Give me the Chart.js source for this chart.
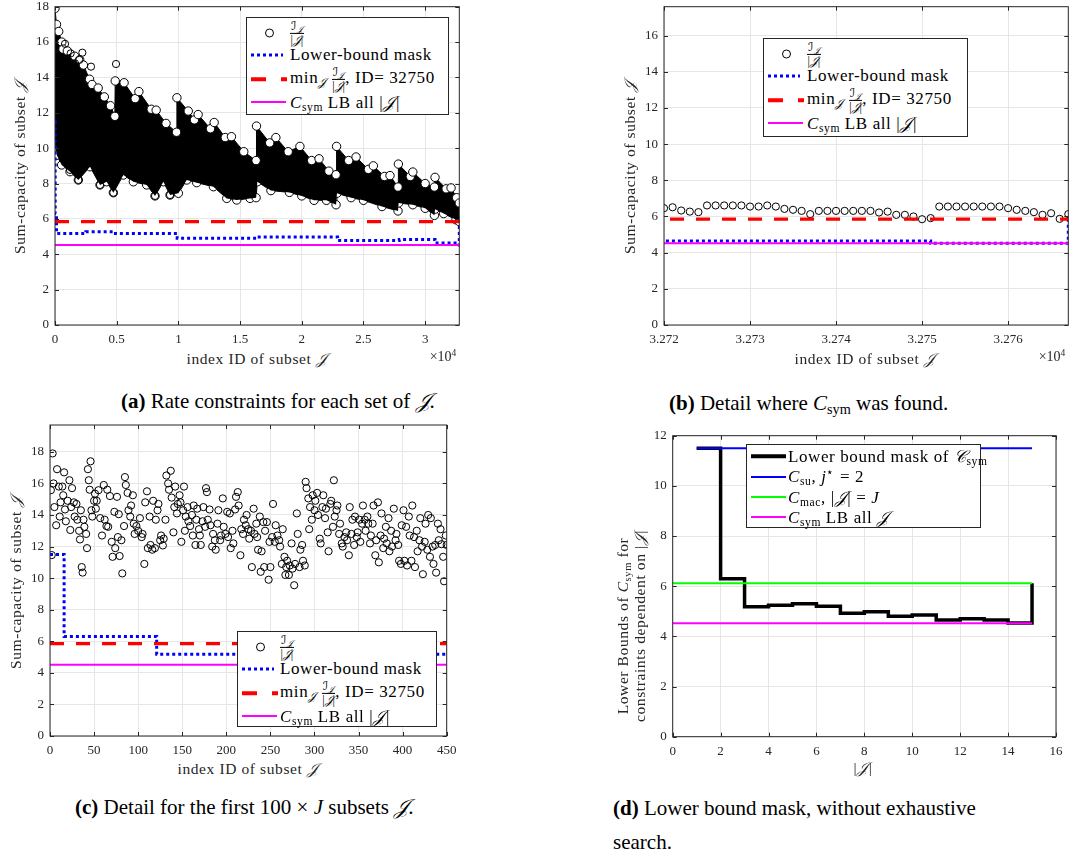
<!DOCTYPE html>
<html>
<head>
<meta charset="utf-8">
<script src="https://cdn.jsdelivr.net/npm/chart.js@4/dist/chart.umd.min.js"></script>
<style>
  body { margin: 0; width: 1085px; height: 861px; position: relative; overflow: hidden; background: #fff;
         font-family: "Liberation Serif", serif; color: #262626; }
  canvas { position: absolute; }
  .t { position: absolute; white-space: nowrap; transform: translate(-50%, -50%); }
  .axl { font-size: 15.5px; letter-spacing: 0.6px; }
  .rot { transform: translate(-50%, -50%) rotate(-90deg); }
  .cal { font-family: "DejaVu Serif", "DejaVu Sans", serif; font-style: italic; }
  sub { font-size: 0.68em; vertical-align: -0.3em; line-height: 0; }
  sup { font-size: 0.68em; vertical-align: 0.5em; line-height: 0; }
  .leg { position: absolute; background: #fff; border: 1px solid #262626; box-sizing: border-box; }
  .row { position: absolute; left: 0; right: 0; height: 0; }
  .row .txt { position: absolute; transform: translateY(-50%); font-size: 17px; letter-spacing: 0.6px; white-space: nowrap; color: #000; }
  .mk { position: absolute; transform: translateY(-50%); }
  .frac { display: inline-flex; flex-direction: column; align-items: center; font-size: 12px; line-height: 1.05; vertical-align: middle; letter-spacing: 0; }
  .frac > span:first-child { border-bottom: 1px solid #000; padding: 0 1px; }
  .cap { position: absolute; white-space: nowrap; font-size: 21px; color: #000; font-family: "Liberation Serif", serif; }
  .x4 { font-size: 14px; }
</style>
</head>
<body>
<canvas id="chartA" width="480" height="350" style="left:0;top:0"></canvas>
<canvas id="chartB" width="485" height="350" style="left:600px;top:0"></canvas>
<canvas id="chartC" width="470" height="340" style="left:0;top:420px"></canvas>
<canvas id="chartD" width="485" height="340" style="left:600px;top:420px"></canvas>

<!-- axis titles -->
<div class="t axl rot" style="left:20px;top:167px">Sum-capacity of subset <span class="cal">&#x1D4A5;</span></div>
<div class="t axl" style="left:257px;top:359px">index ID of subset <span class="cal">&#x1D4A5;</span></div>
<div class="t x4" style="left:443px;top:357px">&times;10<sup>4</sup></div>

<div class="t axl rot" style="left:630px;top:167px">Sum-capacity of subset <span class="cal">&#x1D4A5;</span></div>
<div class="t axl" style="left:865px;top:359px">index ID of subset <span class="cal">&#x1D4A5;</span></div>
<div class="t x4" style="left:1052px;top:357px">&times;10<sup>4</sup></div>

<div class="t axl rot" style="left:16px;top:582px">Sum-capacity of subset <span class="cal">&#x1D4A5;</span></div>
<div class="t axl" style="left:248px;top:769px">index ID of subset <span class="cal">&#x1D4A5;</span></div>

<div class="t axl rot" style="left:623px;top:626px">Lower Bounds of <i>C</i><sub>sym</sub> for</div>
<div class="t axl rot" style="left:640px;top:626px">constraints dependent on |<span class="cal">&#x1D4A5;</span>|</div>
<div class="t axl" style="left:863px;top:768px">|<span class="cal">&#x1D4A5;</span>|</div>

<!-- legends -->
<div id="legA" class="leg" style="left:246px;top:17px;width:203px;height:98px"></div>
<div id="legB" class="leg" style="left:763px;top:38px;width:205px;height:99px"></div>
<div id="legC" class="leg" style="left:237px;top:631px;width:200px;height:96px"></div>
<div class="leg" style="left:746px;top:444px;width:235px;height:84px">
  <div class="row" style="top:11px"><div class="mk" style="left:4px;width:35px;height:3.5px;background:#000"></div>
    <div class="txt" style="left:41px">Lower bound mask of <span class="cal">&#x1D49E;</span><sub>sym</sub></div></div>
  <div class="row" style="top:32px"><div class="mk" style="left:4px;width:35px;height:2px;background:#0000ff"></div>
    <div class="txt" style="left:41px"><i>C</i><sub>su</sub>, <i>j</i><sup>&#x22C6;</sup> = 2</div></div>
  <div class="row" style="top:52px"><div class="mk" style="left:4px;width:35px;height:2px;background:#00ff00"></div>
    <div class="txt" style="left:41px"><i>C</i><sub>mac</sub>, |<span class="cal">&#x1D4A5;</span>| = <i>J</i></div></div>
  <div class="row" style="top:72px"><div class="mk" style="left:4px;width:35px;height:2px;background:#ff00ff"></div>
    <div class="txt" style="left:41px"><i>C</i><sub>sym</sub> LB all <span class="cal">&#x1D4A5;</span></div></div>
</div>

<!-- captions -->
<div class="cap" style="left:121px;top:389px"><b>(a)</b> Rate constraints for each set of <span class="cal">&#x1D4A5;</span>.</div>
<div class="cap" style="left:669px;top:391px"><b>(b)</b> Detail where <i>C</i><sub>sym</sub> was found.</div>
<div class="cap" style="left:75px;top:795px"><b>(c)</b> Detail for the first 100 &times; <i>J</i> subsets <span class="cal">&#x1D4A5;</span>.</div>
<div class="cap" style="left:613px;top:796px"><b>(d)</b> Lower bound mask, without exhaustive</div>
<div class="cap" style="left:613px;top:830px">search.</div>

<script>
// shared reference levels
const idxMax = 32767;
const minCap = 5.85;     // min over J of I_J/|J|, ID = 32750
const csymLB = 4.52;     // C_sym lower bound over all |J|

// tick positions
const ticksAx = [0, 5000, 10000, 15000, 20000, 25000, 30000];
const ticksAy = [0, 2, 4, 6, 8, 10, 12, 14, 16, 18];
const ticksBx = [32720, 32730, 32740, 32750, 32760];
const ticksBy = [0, 2, 4, 6, 8, 10, 12, 14, 16];
const ticksCx = [0, 50, 100, 150, 200, 250, 300, 350, 400, 450];
const ticksCy = [0, 2, 4, 6, 8, 10, 12, 14, 16, 18];
const ticksDx = [0, 2, 4, 6, 8, 10, 12, 14, 16];
const ticksDy = [0, 2, 4, 6, 8, 10, 12];

// lower-bound mask over the subset index (value holds until the next index)
const maskIdx = [0, 16, 121, 2500, 4900, 9900, 16400, 22900, 27900, 30800, 32751, 32767, 32767];
const maskVal = [11.5, 6.3, 5.18, 5.27, 5.17, 4.9, 4.98, 4.78, 4.84, 4.64, 4.52, 4.52, 6.0];

// (a) envelope of the dense I_J/|J| cloud over all subsets
const cloudHiIdx = [0, 120, 300, 550, 650, 1000, 1600, 2000, 2300, 2800, 3000, 3500, 4000, 4500, 4850,
  4880, 5600, 6500, 6800, 7800, 8200, 9000, 9850,
  9880, 10800, 11300, 11600, 12600, 12900, 13800, 14300, 15300, 16300,
  16330, 17400, 17900, 18900, 19850, 20800, 21400, 22200, 22780,
  22820, 23800, 24400, 25400, 25800, 26700, 27150, 27800,
  27830, 28800, 29000, 30000, 30750, 30800, 31700, 32100, 32550, 32767];
const cloudHiVal = [17.9, 17.0, 16.6, 16.0, 15.6, 15.5, 15.2, 15.0, 14.7, 13.9, 13.6, 13.4, 12.9, 12.4, 11.8,
  13.8, 13.7, 12.8, 13.2, 12.2, 12.15, 11.4, 10.9,
  12.85, 12.1, 11.6, 11.9, 11.1, 11.45, 10.6, 10.65, 9.8, 9.3,
  11.25, 10.3, 10.6, 9.8, 10.1, 9.3, 9.4, 8.7, 8.5,
  10.1, 9.3, 9.5, 8.8, 9.0, 8.4, 8.45, 7.8,
  9.1, 8.4, 8.65, 8.0, 7.8, 8.35, 7.7, 7.75, 7.2, 6.9];
const cloudLoIdx = [0, 150, 540, 1216, 1892, 2838, 3649, 4189, 4730, 5540, 6351, 7432, 8108, 8784, 9324,
  10000, 10676, 11486, 12838, 13919, 14730, 15811, 16300,
  16400, 17500, 19000, 20000, 21000, 22000, 22780,
  22850, 24000, 25000, 26500, 27800, 27850, 29000, 30000, 30750, 30800, 31500, 32500, 32767];
const cloudLoVal = [10.5, 9.6, 9.05, 8.67, 8.2, 8.95, 7.92, 8.1, 7.48, 8.48, 8.1, 7.92, 7.3, 8.1, 7.35,
  7.45, 8.2, 8.05, 7.82, 7.16, 7.07, 7.16, 7.2,
  8.1, 7.6, 7.5, 7.3, 7.05, 7.05, 6.8,
  7.45, 7.2, 7.05, 6.7, 6.45, 6.9, 6.8, 6.6, 6.2, 6.55, 6.3, 5.95, 5.85];
// isolated circles just outside the cloud
const strayIdx = [811, 1270, 1622, 1973, 2216, 2919, 4946, 1216, 1892, 3649, 4730, 8108, 9324];
const strayVal = [15.9, 15.36, 14.8, 14.99, 15.4, 14.61, 14.76, 8.77, 8.2, 7.92, 7.48, 7.3, 7.35];

// (b) last subsets
const idxB = [32720, 32721, 32722, 32723, 32724, 32725, 32726, 32727, 32728, 32729, 32730, 32731,
  32732, 32733, 32734, 32735, 32736, 32737, 32738, 32739, 32740, 32741, 32742, 32743,
  32744, 32745, 32746, 32747, 32748, 32749, 32750, 32751, 32752, 32753, 32754, 32755,
  32756, 32757, 32758, 32759, 32760, 32761, 32762, 32763, 32764, 32765, 32766, 32767];
const capB = [6.46, 6.51, 6.33, 6.27, 6.24, 6.61, 6.61, 6.61, 6.61, 6.61, 6.55, 6.55,
  6.61, 6.55, 6.42, 6.37, 6.31, 6.13, 6.31, 6.31, 6.31, 6.31, 6.31, 6.31,
  6.31, 6.22, 6.27, 6.09, 6.09, 6.0, 5.85, 5.91, 6.55, 6.55, 6.55, 6.55,
  6.55, 6.55, 6.55, 6.55, 6.46, 6.37, 6.31, 6.24, 6.09, 6.18, 5.87, 6.13];

// (c) first subsets
const idxC = [1, 3, 2, 4, 5, 7, 8, 10, 11, 12, 14, 15, 16, 17, 18, 20, 22, 23, 24, 25, 27, 28, 30, 31, 33, 34, 35,
  36, 37, 38, 39, 41, 42, 43, 44, 45, 46, 47, 48, 50, 51, 52, 53, 55, 57, 59, 61, 62, 64, 65, 66, 68, 70,
  71, 73, 74, 76, 77, 78, 79, 81, 82, 84, 85, 86, 88, 89, 91, 92, 94, 95, 96, 98, 100, 102, 104, 105, 107,
  108, 110, 111, 113, 114, 116, 117, 119, 120, 122, 123, 125, 126, 128, 129, 131, 132, 134, 135, 137, 138,
  140, 141, 142, 144, 145, 147, 148, 149, 151, 152, 153, 154, 156, 157, 159, 161, 162, 163, 165, 166, 167,
  169, 170, 171, 173, 174, 176, 177, 178, 179, 181, 182, 184, 185, 187, 188, 190, 191, 193, 194, 196, 197,
  199, 201, 202, 204, 205, 207, 208, 210, 211, 213, 214, 216, 217, 219, 220, 222, 223, 225, 226, 228, 229,
  231, 232, 234, 235, 236, 238, 239, 240, 242, 243, 244, 246, 248, 249, 250, 252, 253, 255, 256, 258, 260,
  261, 263, 264, 266, 267, 268, 269, 271, 272, 274, 275, 277, 278, 280, 281, 283, 284, 286, 287, 289, 290,
  291, 293, 294, 295, 297, 298, 300, 301, 303, 304, 306, 307, 309, 310, 312, 313, 315, 316, 318, 319, 321,
  322, 323, 325, 326, 328, 329, 331, 332, 334, 336, 337, 339, 340, 342, 343, 345, 346, 348, 349, 351, 352,
  354, 355, 357, 358, 360, 361, 363, 364, 366, 367, 369, 370, 372, 373, 375, 376, 378, 379, 381, 382, 384,
  385, 387, 388, 390, 392, 393, 395, 396, 398, 399, 401, 402, 404, 405, 407, 408, 410, 411, 413, 414, 416,
  417, 419, 420, 422, 423, 425, 426, 428, 429, 431, 432, 434, 435, 437, 438, 440, 441, 443, 444, 446, 447,
  449, 450];
const capC = [15.57, 17.9, 11.46, 16.0, 14.5, 13.35, 16.9, 15.8, 13.9, 14.8, 15.8, 15.25, 16.7, 14.35, 13.6,
  14.9, 16.2, 13.05, 14.5, 15.7, 14.8, 13.9, 14.7, 13.7, 13.0, 12.45, 14.3,
  10.7, 10.35, 13.7, 13.25, 12.8, 11.9, 16.9, 16.2, 15.6, 17.4, 14.3, 13.9, 14.9, 15.35, 14.4, 14.9, 15.57,
  13.8, 12.7, 15.9, 13.7, 13.3, 15.6, 13.25, 15.2, 12.3,
  11.35, 14.2, 11.9, 15.15, 12.6, 14.05, 11.4, 12.4, 10.3, 13.3, 16.4, 15.9, 15.4, 14.3, 13.9, 14.6, 15.25,
  13.45, 12.8, 13.3, 13.0, 13.8, 12.6, 12.8, 10.9,
  14.8, 15.5, 11.9, 13.9, 12.1, 11.8, 14.9, 11.9, 13.7, 14.3, 14.7, 12.4, 12.7, 12.07, 12.5, 13.7, 16.5,
  16.0, 15.6, 16.8, 15.1,
  12.9, 14.5, 15.8, 14.1, 14.7, 15.25, 14.8, 12.3, 14.3, 15.8, 13.0, 13.9, 14.5, 13.6, 13.3, 14.0, 12.7,
  14.6, 12.1, 13.7, 14.4,
  13.1, 12.7, 12.1, 13.6, 14.5, 13.25, 15.7, 15.45, 13.7, 14.35, 13.35, 12.0, 12.8, 12.4, 11.8, 13.45, 14.3,
  12.4, 12.7, 15.05, 13.25,
  12.8, 14.2, 12.6, 14.1, 11.9, 13.0, 12.2, 14.35, 15.15, 15.45, 14.6, 11.45, 13.1, 12.8, 13.7, 13.35, 14.0,
  13.1, 12.5, 13.0, 10.7,
  14.4, 12.8, 13.45, 12.6, 11.8, 13.9, 10.4, 11.7, 13.55, 10.7, 13.0, 13.55, 9.9, 12.3, 10.7, 12.6, 14.7,
  12.3, 13.35, 12.7, 12.4,
  12.0, 10.9, 13.1, 11.35, 10.2, 10.7, 11.1, 10.2, 10.8, 12.2, 10.6, 9.55, 10.9, 14.1, 12.8, 10.7, 11.8,
  12.1, 11.1, 10.8, 16.1,
  15.7, 15.05, 13.1, 14.5, 13.7, 15.25, 14.3, 14.9, 15.4, 14.0, 12.5, 12.2, 14.5, 15.25, 13.8, 14.4, 12.9,
  11.7, 14.7, 14.9, 13.25,
  16.2, 13.9, 14.3, 14.6, 12.8, 13.45, 12.2, 12.0, 12.6, 12.9, 12.4, 11.45, 14.5, 12.8, 13.7, 12.1, 13.9,
  12.6, 12.9, 13.7, 12.3,
  13.45, 14.6, 13.7, 13.0, 13.9, 13.45, 12.2, 12.7, 13.45, 14.6, 11.45, 12.4, 14.8, 11.0, 12.7, 14.1, 11.9,
  12.5, 13.25, 12.2, 13.8,
  11.7, 13.0, 12.0, 14.4, 12.4, 12.8, 12.1, 11.1, 10.9, 13.35, 14.3, 11.1, 13.25, 10.8, 13.9, 12.7, 11.1,
  14.6, 12.6, 10.7, 13.0,
  11.7, 12.4, 13.8, 12.0, 10.25, 12.3, 13.45, 11.8, 14.0, 11.35, 13.8, 12.0, 10.9, 12.1, 10.35, 13.45, 12.4,
  13.1, 12.15, 11.35, 9.8,
  12.7, 12.1];

// (d) lower bound mask against |J|
const sizeJ = [1, 2, 3, 4, 5, 6, 7, 8, 9, 10, 11, 12, 13, 14, 15, 15];
const maskD = [11.5, 6.3, 5.18, 5.24, 5.3, 5.2, 4.92, 4.98, 4.8, 4.85, 4.65, 4.7, 4.65, 4.53, 4.53, 6.12];
const cSu = 11.5;   // j* = 2
const cMac = 6.12;  // |J| = J
const sizeRange = [0, 15];
const suRange = [1, 15];

const INK = '#262626';
const tickFont = { family: '"Liberation Serif", serif', size: 13 };

const pts = (xs, ys) => xs.map((x, i) => ({ x: x, y: ys[i] }));
const hline = (x0, x1, v) => [{ x: x0, y: v }, { x: x1, y: v }];

// MATLAB-like box with inward ticks on all four sides
const boxPlugin = {
  id: 'box',
  afterDatasetsDraw(chart) {
    const { ctx, chartArea: a, scales: { x, y } } = chart;
    ctx.save();
    ctx.strokeStyle = INK;
    ctx.lineWidth = 1;
    ctx.beginPath();
    x.ticks.forEach(t => {
      const p = Math.round(x.getPixelForValue(t.value)) + 0.5;
      ctx.moveTo(p, a.bottom); ctx.lineTo(p, a.bottom - 4);
      ctx.moveTo(p, a.top); ctx.lineTo(p, a.top + 4);
    });
    y.ticks.forEach(t => {
      const p = Math.round(y.getPixelForValue(t.value)) + 0.5;
      ctx.moveTo(a.left, p); ctx.lineTo(a.left + 4, p);
      ctx.moveTo(a.right, p); ctx.lineTo(a.right - 4, p);
    });
    ctx.stroke();
    ctx.strokeRect(a.left, a.top, a.right - a.left, a.bottom - a.top);
    ctx.restore();
  }
};

function makeOptions(o) {
  return {
    responsive: false, animation: false, devicePixelRatio: 1, events: [],
    layout: { padding: o.pad },
    plugins: { legend: { display: false }, tooltip: { enabled: false } },
    scales: {
      x: {
        type: 'linear', min: o.x[0], max: o.x[1],
        afterBuildTicks: s => { s.ticks = o.xt.map(v => ({ value: v })); },
        afterFit: s => { s.height = o.xh; s.paddingLeft = 0; s.paddingRight = 0; },
        grid: { color: '#e6e6e6', drawTicks: false },
        border: { display: false },
        ticks: { autoSkip: false, maxRotation: 0, padding: 7,
                 color: INK, font: tickFont, callback: o.fmt || (v => v) }
      },
      y: {
        type: 'linear', min: o.y[0], max: o.y[1],
        afterBuildTicks: s => { s.ticks = o.yt.map(v => ({ value: v })); },
        afterFit: s => { s.width = o.yw; s.paddingTop = 0; s.paddingBottom = 0; },
        grid: { color: '#e6e6e6', drawTicks: false },
        border: { display: false },
        ticks: { autoSkip: false, padding: 6, color: INK, font: tickFont }
      }
    }
  };
}

// the three reference lines shared by (a), (b) and (c)
function levelSets() {
  return [
    { data: hline(0, idxMax, csymLB), borderColor: '#ff00ff', borderWidth: 2, pointRadius: 0 },
    { data: hline(0, idxMax, minCap), borderColor: '#ff0000', borderWidth: 3.2, borderDash: [14, 12],
      borderCapStyle: 'butt', pointRadius: 0 },
    { data: pts(maskIdx, maskVal), borderColor: '#0000ff', borderWidth: 3, borderDash: [3, 3],
      borderCapStyle: 'butt', stepped: 'before', pointRadius: 0 }
  ];
}
const ring = { type: 'scatter', pointStyle: 'circle', pointRadius: 3.6, borderWidth: 1,
               borderColor: '#000', backgroundColor: 'rgba(0,0,0,0)', showLine: false };

new Chart(document.getElementById('chartA'), {
  type: 'line',
  data: { datasets: [
    ...levelSets(),
    { ...ring, data: pts(strayIdx, strayVal) },
    { data: pts(cloudHiIdx, cloudHiVal), borderColor: '#000', borderWidth: 1, fill: '+1',
      backgroundColor: '#000', pointRadius: 4.2, pointBorderColor: '#000', pointBackgroundColor: '#fff' },
    { data: pts(cloudLoIdx, cloudLoVal), borderColor: '#000', borderWidth: 1, fill: false,
      pointRadius: 4.2, pointBorderColor: '#000', pointBackgroundColor: '#fff' }
  ] },
  options: makeOptions({ x: [0, idxMax], xt: ticksAx, y: [0, 18], yt: ticksAy,
                         pad: { left: 0, top: 6.7, right: 20.7, bottom: 0 },
                         yw: 55, xh: 25, fmt: v => String(v / 1e4) }),
  plugins: [boxPlugin]
});

new Chart(document.getElementById('chartB'), {
  type: 'line',
  data: { datasets: [...levelSets(), { ...ring, data: pts(idxB, capB) }] },
  options: makeOptions({ x: [32720, idxMax], xt: ticksBx, y: [0, 17.6], yt: ticksBy,
                         pad: { left: 0, top: 6.7, right: 16.7, bottom: 0 },
                         yw: 64, xh: 25, fmt: v => (v / 1e4).toFixed(3) }),
  plugins: [boxPlugin]
});

new Chart(document.getElementById('chartC'), {
  type: 'line',
  data: { datasets: [...levelSets(), { ...ring, data: pts(idxC, capC) }] },
  options: makeOptions({ x: [0, 450], xt: ticksCx, y: [0, 19.7], yt: ticksCy,
                         pad: { left: 0, top: 5, right: 23.3, bottom: 0 },
                         yw: 50, xh: 24 }),
  plugins: [boxPlugin]
});

new Chart(document.getElementById('chartD'), {
  type: 'line',
  data: { datasets: [
    { data: hline(sizeRange[0], sizeRange[1], csymLB), borderColor: '#ff00ff', borderWidth: 2, pointRadius: 0 },
    { data: hline(sizeRange[0], sizeRange[1], cMac), borderColor: '#00ff00', borderWidth: 2, pointRadius: 0 },
    { data: hline(suRange[0], suRange[1], cSu), borderColor: '#0000ff', borderWidth: 2, pointRadius: 0 },
    { data: pts(sizeJ, maskD), borderColor: '#000', borderWidth: 3.5, stepped: 'before', pointRadius: 0 }
  ] },
  options: makeOptions({ x: [0, 16], xt: ticksDx, y: [0, 12], yt: ticksDy,
                         pad: { left: 0, top: 15.7, right: 29, bottom: 0 },
                         yw: 72.7, xh: 23.3 }),
  plugins: [boxPlugin]
});

// legend rows for the three index plots
function legendRows(el, rows, textLeft) {
  el.innerHTML = rows.map(r => '<div class="row" style="top:' + r.top + 'px">' + r.mark +
    '<div class="txt" style="left:' + textLeft + 'px">' + r.html + '</div></div>').join('');
}
const J = '<span class="cal">&#x1D4A5;</span>';
const fracIJ = '<span class="frac"><span><span class="cal">&#x2110;</span><sub>' + J + '</sub></span><span>|' + J + '|</span></span>';
const markCircle = '<div class="mk" style="left:18px;width:7px;height:7px;border:1px solid #000;border-radius:50%"></div>';
const markDot = '<div class="mk" style="left:4px;width:32px;height:3px;background:repeating-linear-gradient(90deg,#0000ff 0 3px,transparent 3px 6px)"></div>';
const markDash = '<div class="mk" style="left:4px;width:36px;height:3.5px;background:linear-gradient(90deg,#ff0000 0 15px,transparent 15px 30px,#ff0000 30px 36px)"></div>';
const markLine = '<div class="mk" style="left:4px;width:35px;height:2px;background:#ff00ff"></div>';
const rowsIdx = [
  { mark: markCircle, html: fracIJ, top: 15 },
  { mark: markDot, html: 'Lower-bound mask', top: 37 },
  { mark: markDash, html: 'min<sub>' + J + '</sub> ' + fracIJ + ', ID= 32750', top: 61 },
  { mark: markLine, html: '<i>C</i><sub>sym</sub> LB all |' + J + '|', top: 84 }
];
legendRows(document.getElementById('legA'), rowsIdx, 43);
legendRows(document.getElementById('legB'), rowsIdx, 43);
legendRows(document.getElementById('legC'), rowsIdx, 42);
</script>
</body>
</html>
